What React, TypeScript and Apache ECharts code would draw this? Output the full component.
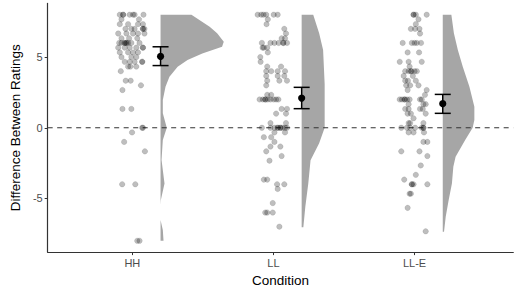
import React, { useEffect, useRef } from "react";
import * as echarts from "echarts";

const categories = ["HH", "LL", "LL-E"];
const yTickValues = [-5, 0, 5];

// raw ratings: [jitter offset (category units), value]
const hhPoints: [number, number][] = [
  [-0.089, 8], [-0.065, 8], [-0.019, 8], [0.005, 8], [0.016, 8], [0.079, 8], [-0.065, 8],
  [-0.077, 7.67], [0.047, 7.67],
  [-0.089, 7.33], [-0.03, 7.33], [0.04, 7.33], [0.075, 7.33],
  [-0.049, 7], [-0.007, 7], [0.016, 7], [0.075, 7], [0.075, 7], [0.086, 7],
  [-0.1, 6.67], [-0.042, 6.67], [0.005, 6.67], [0.04, 6.67], [0.086, 6.67],
  [-0.077, 6.33], [-0.023, 6.33], [0.035, 6.33],
  [-0.093, 6], [-0.077, 6], [-0.054, 6], [-0.054, 6], [-0.042, 6], [-0.042, 6], [-0.03, 6], [-0.007, 6], [0.051, 6],
  [-0.1, 5.67], [-0.054, 5.67], [-0.019, 5.67], [0.028, 5.67], [0.075, 5.67], [0.075, 5.67],
  [-0.089, 5.33], [-0.03, 5.33], [0.005, 5.33], [0.04, 5.33],
  [-0.077, 5], [-0.007, 5], [0.028, 5],
  [-0.054, 4.67], [-0.019, 4.67], [0.016, 4.67], [0.07, 4.67], [0.07, 4.67],
  [-0.03, 4.33], [-0.014, 4.33], [0.028, 4.33],
  [-0.082, 4],
  [-0.047, 3.33], [-0.012, 3.33],
  [0.061, 3],
  [-0.07, 2.67],
  [-0.07, 1.33], [-0.007, 1.33],
  [0.07, 0], [0.075, 0],
  [-0.002, -0.33],
  [-0.058, -1],
  [0.089, -1.67],
  [-0.072, -4], [0.021, -4],
  [0.035, -8], [0.051, -8],
];

const llPoints: [number, number][] = [
  [-0.112, 8], [-0.086, 8], [-0.07, 8], [-0.051, 8], [0.002, 8], [0.03, 8],
  [-0.04, 7.67],
  [-0.049, 7.33],
  [0.077, 7],
  [0.089, 6.67],
  [0.058, 6.33], [0.082, 6.33],
  [-0.082, 6], [-0.021, 6], [0.007, 6], [0.037, 6], [0.07, 6], [0.096, 6], [0.07, 6],
  [-0.077, 5.67], [-0.068, 5.67], [-0.044, 5.67],
  [-0.04, 5.33],
  [-0.093, 5],
  [-0.091, 4.67],
  [-0.044, 4.33], [0.054, 4.33],
  [-0.051, 4], [-0.016, 4], [0.03, 4], [0.082, 4],
  [-0.051, 3.67], [0.03, 3.67], [0.077, 3.67],
  [-0.044, 3.33], [0.042, 3.33], [0.096, 3.33],
  [-0.051, 3],
  [-0.044, 2.33], [-0.016, 2.33],
  [-0.098, 2], [-0.075, 2], [-0.058, 2], [-0.04, 2], [-0.021, 2], [0.002, 2], [0.019, 2], [0.035, 2], [-0.058, 2],
  [0.058, 1.33], [0.096, 1.33],
  [0.019, 1], [0.089, 1],
  [-0.021, 0.33], [0.089, 0.33],
  [-0.082, 0], [-0.021, 0], [0.007, 0], [0.03, 0], [0.049, 0], [0.065, 0], [0.082, 0], [0.096, 0], [0.03, 0], [0.049, 0],
  [0.007, -0.33], [0.082, -0.33],
  [-0.068, -0.67], [-0.016, -0.67],
  [0.007, -1],
  [-0.021, -1.33], [0.049, -1.33],
  [-0.051, -1.67],
  [0.058, -2],
  [-0.028, -2.33],
  [-0.068, -3.67], [-0.044, -3.67],
  [0.026, -4], [0.077, -4],
  [0.03, -4.33],
  [-0.005, -5.33],
  [-0.058, -6], [-0.044, -6], [-0.005, -6],
  [0.042, -7],
];

const llePoints: [number, number][] = [
  [-0.007, 8], [0.009, 8], [0.086, 8], [-0.007, 8],
  [0.028, 7.67],
  [0.009, 7.33],
  [-0.026, 7], [0.004, 7], [0.035, 7],
  [0.039, 6.67],
  [-0.084, 6], [-0.019, 6], [0, 6], [0.016, 6], [0.046, 6],
  [-0.049, 5.33], [0.032, 5.33],
  [-0.105, 4.67], [-0.042, 4.67], [0.051, 4.67],
  [-0.035, 4.33],
  [-0.066, 4], [-0.042, 4], [-0.024, 4], [0, 4], [0.016, 4], [-0.024, 4],
  [-0.077, 3.67], [-0.012, 3.67],
  [-0.066, 3.33], [-0.047, 3.33], [0.009, 3.33],
  [-0.059, 3], [-0.031, 3], [0.028, 3],
  [-0.049, 2.67], [0.086, 2.67],
  [0.074, 2.33],
  [-0.105, 2], [-0.089, 2], [-0.07, 2], [-0.054, 2], [-0.035, 2], [0.039, 2], [0.051, 2], [-0.07, 2],
  [-0.042, 1.67], [0.063, 1.67], [0.079, 1.67],
  [-0.066, 1.33], [-0.042, 1.33], [0.039, 1.33], [0.058, 1.33],
  [-0.049, 1], [-0.026, 1], [0.079, 1],
  [-0.007, 0.67],
  [-0.042, 0.33], [-0.031, 0.33], [0.063, 0.33],
  [-0.094, 0], [-0.054, 0], [-0.031, 0], [0.004, 0], [0.051, 0], [0.063, 0], [0.063, 0],
  [-0.042, -0.33], [-0.007, -0.33], [0.067, -0.33],
  [0.063, -1], [0.091, -1],
  [-0.094, -1.67], [0.035, -1.67],
  [0.091, -2],
  [0.044, -2.67],
  [0.009, -3.33],
  [-0.073, -3.67],
  [-0.019, -4], [-0.007, -4], [0.091, -4], [-0.019, -4],
  [-0.035, -4.67], [-0.026, -4.67],
  [-0.049, -5.67],
  [0.079, -7.33],
];

// mean and confidence interval per condition
const means = [5.05, 2.1, 1.7];
const ciLow = [4.4, 1.35, 1.02];
const ciHigh = [5.73, 2.86, 2.36];

// reference line value
const refLine = [0];

// half-violin density profiles (value, half-width in category units)
const hhViolinY = [8, 7.15, 6.68, 6.09, 5.74, 5.26, 4.79, 4.32, 3.61, 2.9, 1.96, 1.02, 0, -0.87, -2.29, -3.94, -5.12, -5.47, -6.53, -7.24, -8];
const hhViolinW = [0.219, 0.348, 0.401, 0.448, 0.436, 0.296, 0.191, 0.121, 0.063, 0.035, 0.016, 0.016, 0.044, 0.016, 0.007, 0.028, 0.002, 0, 0, 0.016, 0.021];
const llViolinY = [8, 6.68, 5.5, 3.1, 0, -1.1, -2.3, -3.94, -5.59, -7.05];
const llViolinW = [0.082, 0.124, 0.152, 0.163, 0.163, 0.124, 0.063, 0.047, 0.026, 0.012];
const lleViolinY = [8, 6.68, 5.5, 4.32, 2.9, 1.49, 0.54, 0, -0.87, -2.05, -2.76, -3.94, -5.12, -6.3, -7.36];
const lleViolinW = [0.061, 0.079, 0.107, 0.142, 0.189, 0.224, 0.224, 0.212, 0.159, 0.091, 0.075, 0.065, 0.042, 0.021, 0.009];

const FONT = "'Liberation Sans', Arial, sans-serif";
const SIDE_OFFSET = 0.2;
const X_MIN = 0.4;
const X_MAX = 3.7;

export default function App() {
  const ref = useRef<HTMLDivElement>(null);

  useEffect(() => {
    document.body.style.margin = "0";
    if (!ref.current) return;
    const chart = echarts.init(ref.current, null, { renderer: "svg" });

    const pointGroups = [hhPoints, llPoints, llePoints];
    const scatterData: number[][] = [];
    pointGroups.forEach((pts, i) => {
      pts.forEach(([j, v]) => scatterData.push([i + 1 + j, v]));
    });

    const violins = [
      { y: hhViolinY, w: hhViolinW },
      { y: llViolinY, w: llViolinW },
      { y: lleViolinY, w: lleViolinW },
    ];

    const errData = categories.map((_, i) => [i + 1 + SIDE_OFFSET, means[i], ciLow[i], ciHigh[i]]);

    chart.setOption({
      animation: false,
      grid: { left: 40, right: 6.7, top: 3.4, bottom: 39.3 },
      xAxis: {
        type: "value",
        min: X_MIN,
        max: X_MAX,
        splitLine: { show: false },
        axisLine: { show: true, onZero: false, lineStyle: { color: "#333", width: 1.2 } },
        axisTick: { show: true, customValues: [1, 2, 3], length: 3, lineStyle: { color: "#333", width: 1 } },
        axisLabel: {
          customValues: [1, 2, 3],
          formatter: (v: number) => categories[Math.round(v) - 1] ?? "",
          color: "#4d4d4d",
          fontSize: 11,
          fontFamily: FONT,
          margin: 5,
        },
        name: "Condition",
        nameLocation: "middle",
        nameGap: 20,
        nameTextStyle: { color: "#000", fontSize: 13.5, fontFamily: FONT },
      },
      yAxis: {
        type: "value",
        min: -8.8,
        max: 8.8,
        splitLine: { show: false },
        axisLine: { show: true, onZero: false, lineStyle: { color: "#333", width: 1.2 } },
        axisTick: { show: true, customValues: yTickValues, length: 3, lineStyle: { color: "#333", width: 1 } },
        axisLabel: {
          customValues: yTickValues,
          formatter: (v: number) => String(v),
          color: "#4d4d4d",
          fontSize: 11,
          fontFamily: FONT,
          margin: 5,
        },
        name: "Difference Between Ratings",
        nameLocation: "middle",
        nameGap: 22,
        nameTextStyle: { color: "#000", fontSize: 13.5, fontFamily: FONT },
      },
      series: [
        {
          type: "custom",
          silent: true,
          data: categories.map((_, i) => [i]),
          renderItem: (params: any, api: any) => {
            const i = api.value(0);
            const v = violins[i];
            const base = i + 1 + SIDE_OFFSET;
            const pts: number[][] = [];
            pts.push(api.coord([base, v.y[0]]));
            for (let k = 0; k < v.y.length; k++) {
              pts.push(api.coord([base + v.w[k], v.y[k]]));
            }
            pts.push(api.coord([base, v.y[v.y.length - 1]]));
            return {
              type: "polygon",
              shape: { points: pts },
              style: { fill: "#a6a6a6", stroke: "none" },
            };
          },
        },
        {
          type: "custom",
          silent: true,
          data: refLine.map((v) => [v]),
          renderItem: (params: any, api: any) => {
            const a = api.coord([X_MIN, api.value(0)]);
            const b = api.coord([X_MAX, api.value(0)]);
            return {
              type: "line",
              shape: { x1: a[0], y1: a[1], x2: b[0], y2: b[1] },
              style: { stroke: "#333", lineWidth: 1, lineDash: [5, 4.5], fill: "none" },
            };
          },
        },
        {
          type: "scatter",
          silent: true,
          symbol: "circle",
          symbolSize: 5.5,
          data: scatterData,
          itemStyle: { color: "rgba(0,0,0,0.32)", borderColor: "rgba(0,0,0,0.2)", borderWidth: 0.6 },
        },
        {
          type: "custom",
          silent: true,
          data: errData,
          renderItem: (params: any, api: any) => {
            const x = api.value(0);
            const c = api.coord([x, api.value(1)]);
            const lo = api.coord([x, api.value(2)]);
            const hi = api.coord([x, api.value(3)]);
            const cap = 8;
            const st = { stroke: "#000", lineWidth: 1.5 };
            return {
              type: "group",
              children: [
                { type: "line", shape: { x1: c[0], y1: hi[1], x2: c[0], y2: lo[1] }, style: st },
                { type: "line", shape: { x1: c[0] - cap, y1: hi[1], x2: c[0] + cap, y2: hi[1] }, style: st },
                { type: "line", shape: { x1: c[0] - cap, y1: lo[1], x2: c[0] + cap, y2: lo[1] }, style: st },
                { type: "circle", shape: { cx: c[0], cy: c[1], r: 3.6 }, style: { fill: "#000" } },
              ],
            };
          },
        },
      ],
    });

    return () => chart.dispose();
  }, []);

  return <div ref={ref} style={{ width: 520, height: 292 }} />;
}
